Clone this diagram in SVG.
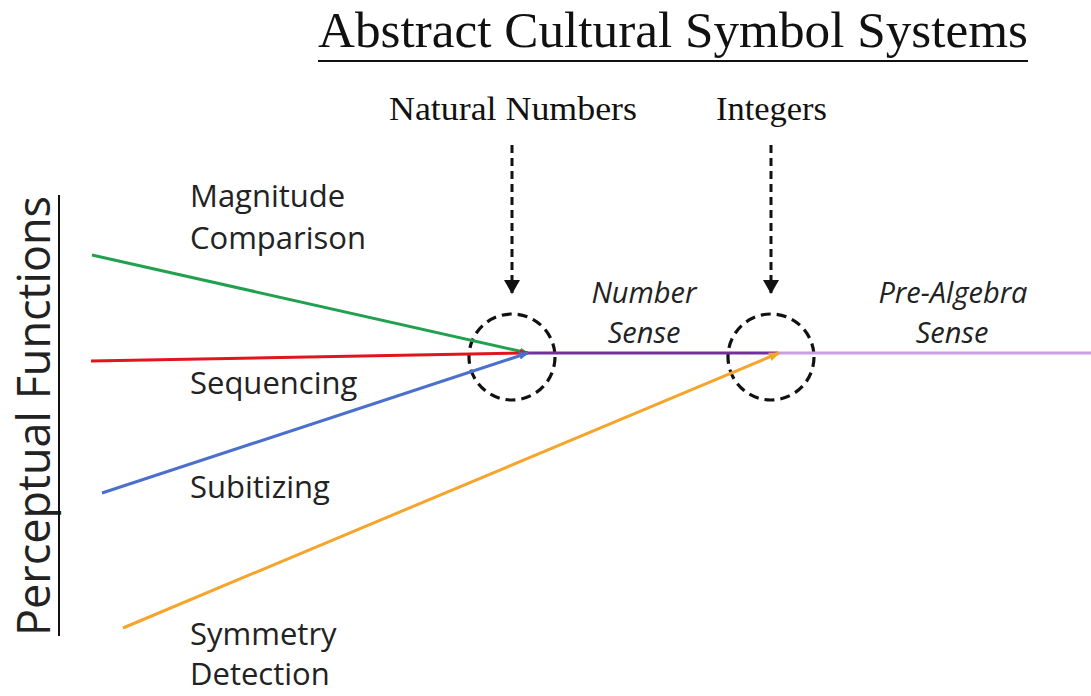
<svg xmlns="http://www.w3.org/2000/svg" width="1091" height="696" viewBox="0 0 1091 696">
<style>
.serif{font-family:"Liberation Serif","Times New Roman",serif;fill:#111}
.sans{font-family:"Open Sans","Liberation Sans",sans-serif;fill:#222;font-size:31px}
.it{font-style:italic;text-anchor:middle;font-size:29px}
.dash{stroke:#111;stroke-width:3;stroke-dasharray:8 5;fill:none}
.circ{stroke:#111;stroke-width:3.2;stroke-dasharray:10 6;fill:none}
.ln{stroke-width:3;fill:none}
</style>
<defs>
<marker id="ahBig" viewBox="0 0 14 16" markerWidth="14" markerHeight="16" refX="13" refY="8" orient="auto" markerUnits="userSpaceOnUse"><path d="M0,0 L14,8 L0,16 z" fill="#111"/></marker>
<marker id="ahG" viewBox="0 0 10 10" markerWidth="9" markerHeight="9" refX="9" refY="5" orient="auto" markerUnits="userSpaceOnUse"><path d="M0,1 L10,5 L0,9 z" fill="#21a14f"/></marker>
<marker id="ahR" viewBox="0 0 10 10" markerWidth="9" markerHeight="9" refX="9" refY="5" orient="auto" markerUnits="userSpaceOnUse"><path d="M0,1 L10,5 L0,9 z" fill="#e0161c"/></marker>
<marker id="ahB" viewBox="0 0 10 10" markerWidth="10" markerHeight="10" refX="9" refY="5" orient="auto" markerUnits="userSpaceOnUse"><path d="M0,1 L10,5 L0,9 z" fill="#4a6fcc"/></marker>
<marker id="ahO" viewBox="0 0 10 10" markerWidth="11" markerHeight="11" refX="9" refY="5" orient="auto" markerUnits="userSpaceOnUse"><path d="M0,1 L10,5 L0,9 z" fill="#f5a42c"/></marker>
</defs>

<g id="title">
<text class="serif" x="318" y="47" font-size="51" textLength="710" lengthAdjust="spacingAndGlyphs">Abstract Cultural Symbol Systems</text>
<line x1="318" y1="61" x2="1028" y2="61" stroke="#111" stroke-width="2"/>
</g>

<g id="perceptual-functions">
<text transform="translate(50,636) rotate(-90)" font-family="Open Sans, Liberation Sans, sans-serif" font-size="45" fill="#222" textLength="440" lengthAdjust="spacingAndGlyphs">Perceptual Functions</text>
<line x1="59" y1="195" x2="59" y2="636" stroke="#111" stroke-width="2"/>
</g>

<g id="natural-numbers">
<text class="serif" x="389" y="120" font-size="34" textLength="248" lengthAdjust="spacingAndGlyphs">Natural Numbers</text>
</g>
<g id="integers">
<text class="serif" x="716" y="120" font-size="34" textLength="111" lengthAdjust="spacingAndGlyphs">Integers</text>
</g>

<g id="circle-number-sense"><circle class="circ" cx="512" cy="357" r="43"/></g>
<g id="circle-pre-algebra"><circle class="circ" cx="771" cy="357" r="43"/></g>

<g id="connectors">
<line class="dash" x1="512" y1="145" x2="512" y2="293" marker-end="url(#ahBig)"/>
<line class="dash" x1="771" y1="145" x2="771" y2="293" marker-end="url(#ahBig)"/>
<line class="ln" stroke="#7030a0" x1="527" y1="353" x2="778" y2="353"/>
<line class="ln" stroke="#c9a0e6" x1="778" y1="353" x2="1091" y2="353"/>
<line class="ln" stroke="#21a14f" x1="92" y1="255" x2="528" y2="353" marker-end="url(#ahG)"/>
<line class="ln" stroke="#e0161c" x1="91" y1="361" x2="528" y2="353" marker-end="url(#ahR)"/>
<line class="ln" stroke="#4a6fcc" x1="102" y1="493" x2="528" y2="353" marker-end="url(#ahB)"/>
<line class="ln" stroke="#f5a42c" x1="123" y1="628" x2="779" y2="353" marker-end="url(#ahO)"/>
</g>

<g id="magnitude-comparison">
<text class="sans" x="190" y="207">Magnitude</text>
<text class="sans" x="190" y="249">Comparison</text>
</g>
<g id="sequencing"><text class="sans" x="190" y="394">Sequencing</text></g>
<g id="subitizing"><text class="sans" x="190" y="498">Subitizing</text></g>
<g id="symmetry-detection">
<text class="sans" x="190" y="645">Symmetry</text>
<text class="sans" x="190" y="685">Detection</text>
</g>
<g id="number-sense">
<text class="sans it" x="644" y="303">Number</text>
<text class="sans it" x="644" y="343">Sense</text>
</g>
<g id="pre-algebra-sense">
<text class="sans it" x="953" y="303">Pre-Algebra</text>
<text class="sans it" x="952" y="343">Sense</text>
</g>
</svg>
